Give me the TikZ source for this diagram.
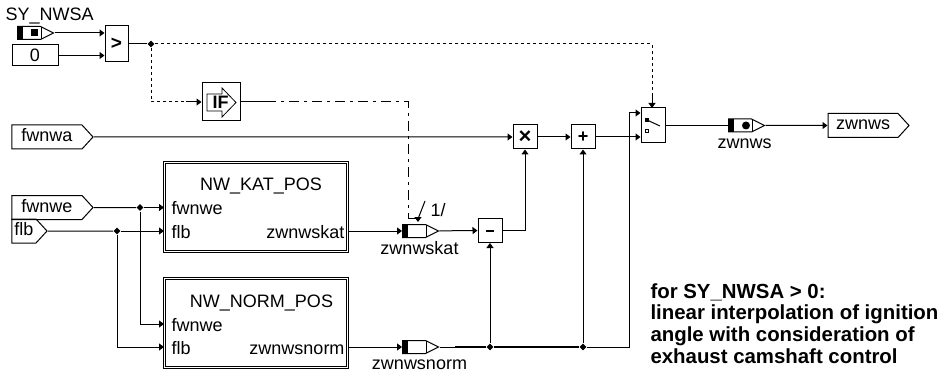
\documentclass[tikz,border=0pt]{standalone}
\usepackage{fontspec}
\setmainfont{Liberation Sans}
\usetikzlibrary{arrows.meta,shapes.geometric,shapes.symbols}
\begin{document}
\begin{tikzpicture}[x=1pt, y=-1pt, >={Triangle[length=5pt,width=7pt]}, line width=1pt,
                font=\fontsize{18}{18}\selectfont,
                box/.style={rectangle, draw, inner sep=0pt},
                opbox/.style={box, minimum width=24pt, minimum height=24pt, font=\bfseries\fontsize{19}{19}\selectfont},
                subsys/.style={rectangle, draw, double, double distance=1pt, line width=1pt, minimum width=183pt, minimum height=89pt},
                port/.style={signal, signal to=east, signal from=nowhere, signal pointer angle=95, draw, inner sep=0pt, minimum height=24pt, text height=9pt, text depth=0pt},
                msg/.style={signal, signal to=east, signal from=nowhere, signal pointer angle=53, draw, inner sep=0pt, minimum width=36pt, minimum height=13pt,
                    path picture={\fill (path picture bounding box.south west) rectangle ([xshift=5pt]path picture bounding box.north west);
                        \draw ([xshift=-12pt]path picture bounding box.north east) -- ([xshift=-12pt]path picture bounding box.south east);}},
                msglabel/.style={inner sep=0pt, anchor=base},
                dot/.style={diamond, fill, inner sep=0pt, minimum size=7pt},
                pin/.style={inner sep=0pt, anchor=base west},
                note/.style={inner sep=0pt, anchor=base west, font=\bfseries\fontsize{20.4}{20.4}\selectfont}
            ]
            \useasboundingbox (0,0) rectangle (941,374);

            % Top inputs
            \node[inner sep=0pt, anchor=base west] (synwsatxt) at (5,21) {SY\_NWSA};
            \node[msg] (synwsa) at (29,33) {};
            \fill (31,29.5) rectangle (38,36.5);
            \node[box, minimum width=46pt, minimum height=21pt] (zero) at (35,55.5) {0};
            \node[opbox, minimum height=36pt, minimum width=23pt] (cmp) at (116.5,44) {>};
            \draw[->] (synwsa) -- (synwsa -| cmp.west);
            \draw[->] (zero) -- (zero -| cmp.west);
            \node[dot] (split) at (151,44) {};
            \draw (cmp) -- (split);

            % IF block
            \node[box, minimum width=38pt, minimum height=38pt] (ifbox) at (221,102) {};
            \draw[line width=.8pt] (207,94) -- (222,94) -- (222,88) -- (236,102.5) -- (222,117) -- (222,111) -- (207,111) -- cycle;
            \node[inner sep=0pt, font=\bfseries\fontsize{18}{18}\selectfont] (iflabel) at (220.5,102.5) {IF};
            \coordinate (ifturn) at (151,102);
            \coordinate (ifsolid) at (186,102);
            \draw[dash pattern=on 3pt off 3pt] (split) -- (ifturn) -- (ifsolid);
            \draw[->] (ifsolid) -- (ifbox);

            % Left inputs
            \node[port, minimum width=81pt] (fwnwa) at (47,137) {fwnwa};
            \node[port, minimum width=81pt] (fwnwe) at (47,207.5) {fwnwe};
            \node[port, minimum width=35pt] (flb) at (24,231) {flb};

            % Subsystems
            \node[subsys] (kat) at (256,207) {};
            \node[subsys] (norm) at (256,323) {};
            \node[msglabel] (kattitle) at (261,190) {NW\_KAT\_POS};
            \node[msglabel] (normtitle) at (261.5,307) {NW\_NORM\_POS};
            \node[pin] (katfwnwe) at (171,214) {fwnwe};
            \node[pin] (katflb) at (171,238) {flb};
            \node[pin] (normfwnwe) at (171,331) {fwnwe};
            \node[pin] (normflb) at (171,354) {flb};
            \node[pin, anchor=base east] (katout) at (345,238) {zwnwskat};
            \node[pin, anchor=base east] (normout) at (345,354) {zwnwsnorm};

            \node[dot] (fwnwedot) at (140,207.5) {};
            \node[dot] (flbdot) at (117,231) {};
            \coordinate (katin1) at (kat.west |- fwnwe);
            \coordinate (katin2) at (kat.west |- flb);
            \coordinate (normin1) at (norm.west |- 0,324);
            \coordinate (normin2) at (norm.west |- 0,347);
            \draw (fwnwe) -- (fwnwedot);
            \draw[->] (fwnwedot) -- (katin1);
            \draw (flb) -- (flbdot);
            \draw[->] (flbdot) -- (katin2);
            \draw[->] (fwnwedot) |- (normin1);
            \draw[->] (flbdot) |- (normin2);

            % Messages
            \node[msg] (zwnwskatmsg) at (414,231) {};
            \node[msg] (zwnwsnormmsg) at (414,347) {};
            \node[msglabel] (zwnwskattxt) at (419.5,254) {zwnwskat};
            \node[msglabel] (zwnwsnormtxt) at (419.5,369) {zwnwsnorm};
            \draw[->] (kat.east |- zwnwskatmsg) -- (zwnwskatmsg);
            \draw[->] (norm.east |- zwnwsnormmsg) -- (zwnwsnormmsg);

            % Dash-dot control line and its mark
            \coordinate (ctrlsolid) at (266,102);
            \coordinate (ctrldown) at (408,102);
            \coordinate (ctrlbend) at (408,218);
            \coordinate (ctrlend) at (418,218);
            \draw (ifbox) -- (ctrlsolid);
            \draw[dash pattern=on 10pt off 5pt on 3pt off 5pt] (ctrlsolid) -- (ctrldown) -- (ctrlbend);
            \draw[->] (ctrlbend) -- (ctrlend) -- +(0,4);
            \draw (418,219) -- (425,201);
            \node[inner sep=0pt, anchor=base west] (ctrltxt) at (430,216) {1/};

            % Arithmetic
            \node[opbox] (minus) at (490,230.5) {\rule{8pt}{2pt}};
            \node[opbox] (times) at (525,137) {\fontsize{22}{22}\selectfont\raisebox{-1pt}{×}};
            \node[opbox] (plus) at (583,137) {\fontsize{18}{18}\selectfont\raisebox{-1pt}{+}};
            \node[box, minimum width=24pt, minimum height=35pt] (switch) at (653,125.5) {};
            \fill (645,118) rectangle (649,122);
            \draw (647,120) -- (660,126);
            \draw[line width=.8pt] (645.5,129.5) rectangle (648.5,132.5);

            \node[dot] (normdot) at (490,347) {};
            \node[dot] (sumdot) at (583,347) {};
            \coordinate (thickstart) at (455,347);
            \coordinate (swcorner) at (629,347);
            \coordinate (swtop) at (629,113);
            \draw[->] (zwnwskatmsg) -- (minus);
            \draw[->] (normdot) -- (minus);
            \draw[->] (minus) -| (times);
            \draw[->] (fwnwa) -- (times);
            \draw[->] (times) -- (plus);
            \draw[->] (sumdot) -- (plus);
            \draw[->] (plus) -- (plus -| switch.west);
            \draw (zwnwsnormmsg) -- (normdot);
            \draw[line width=1.6pt] (thickstart) -- (normdot) -- (sumdot);
            \draw (sumdot) -- (swcorner) -- (swtop);
            \draw[->] (swtop) -- (swtop -| switch.west);

            % Dashed feed to the switch
            \coordinate (dashcorner) at (652,44);
            \coordinate (dashend) at (652,95);
            \draw[dash pattern=on 3pt off 3pt] (split) -- (dashcorner) -- (dashend);
            \draw[->] (dashend) -- (652,108);

            % Output
            \node[msg] (zwnwsmsg) at (740,125.5) {};
            \node[msglabel] (zwnwstxt) at (744.5,149) {zwnws};
            \fill (746,125.5) circle (4pt);
            \node[port, minimum width=81pt] (zwnws) at (863,125.5) {zwnws};
            \draw (switch) -- (zwnwsmsg);
            \draw[->] (zwnwsmsg) -- (zwnws);

            % Note
            \node[note] (note1) at (650,298) {for SY\_NWSA > 0:};
            \node[note] (note2) at (650,319.5) {linear interpolation of ignition};
            \node[note] (note3) at (650,341) {angle with consideration of};
            \node[note] (note4) at (650,363) {exhaust camshaft control};

        \end{tikzpicture}
\end{document}
